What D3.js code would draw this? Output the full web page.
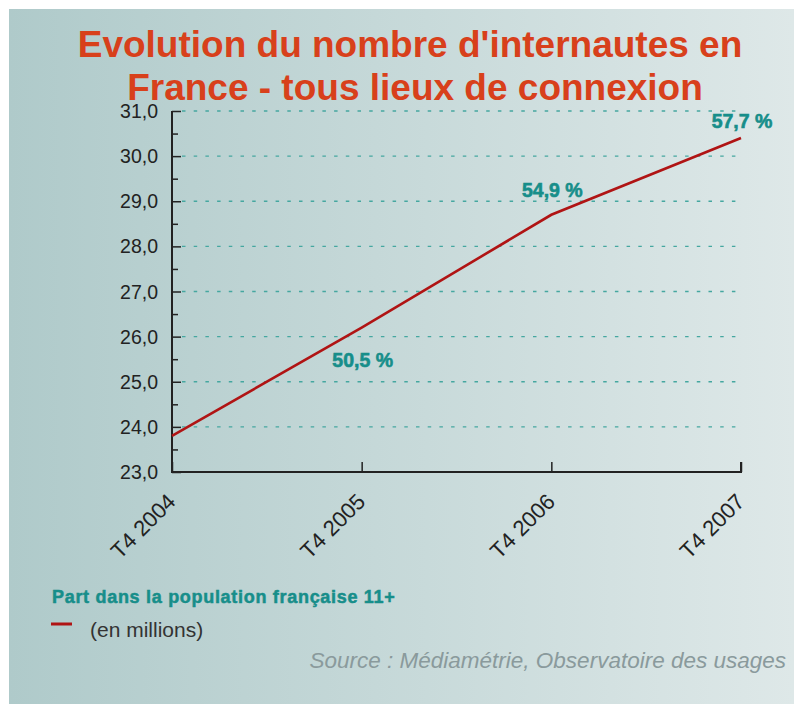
<!DOCTYPE html>
<html><head><meta charset="utf-8">
<script src="https://cdn.jsdelivr.net/npm/d3@7"></script>
<style>body{margin:0;background:#fff}svg{display:block}</style>
</head><body>
<svg id="c" width="794" height="704"></svg>
<script>
const categories = ["T4 2004","T4 2005","T4 2006","T4 2007"];
const values = [23.8, 26.2, 28.7, 30.4];
const shareLabels = ["", "50,5 %", "54,9 %", "57,7 %"];
const shareOffsets = [0, 39, -18, -10];
const yTicks = [23,24,25,26,27,28,29,30,31];
const titleLines = ["Evolution du nombre d'internautes en","France - tous lieux de connexion"];

const FONT = "Liberation Sans, Arial, sans-serif";
const svg = d3.select("#c");
const defs = svg.append("defs");
const g = defs.append("linearGradient").attr("id","bg").attr("x1","0").attr("x2","1").attr("y1","0").attr("y2","0");
g.append("stop").attr("offset","0").attr("stop-color","#afcaca");
g.append("stop").attr("offset","1").attr("stop-color","#dee8e8");
svg.append("rect").attr("x",9).attr("y",9).attr("width",785).attr("height",695).attr("fill","url(#bg)");

const L=172, R=741, T=111, B=472;
const x = d3.scalePoint().domain(categories).range([L,R]);
const y = d3.scaleLinear().domain([23,31]).range([B,T]);

// grid
svg.append("g").selectAll("line").data(yTicks.slice(1)).join("line")
  .attr("x1",L+10).attr("x2",R).attr("y1",d=>y(d)).attr("y2",d=>y(d))
  .attr("stroke","#45a7a0").attr("stroke-width",1.4).attr("stroke-dasharray","3.5,8.2");

// y axis
const ya = svg.append("g").attr("transform",`translate(${L},0)`)
  .call(d3.axisRight(y).tickValues(d3.range(23,31.01,0.5)).tickSize(8).tickFormat(""));
ya.select(".domain").remove();
ya.selectAll(".tick line").attr("stroke","#222").attr("stroke-width",1.5)
  .attr("x2",d=>Number.isInteger(d)?9:6);
svg.append("g").selectAll("text").data(yTicks).join("text")
  .attr("x",L-14).attr("y",d=>y(d)+7).attr("text-anchor","end")
  .attr("font-family",FONT).attr("font-size",19.5).attr("fill","#222")
  .text(d=>d3.format(".1f")(d).replace(".",","));

// x axis
const xa = svg.append("g").attr("transform",`translate(0,${B})`)
  .call(d3.axisTop(x).tickSize(10).tickFormat(""));
xa.select(".domain").remove();
xa.selectAll(".tick line").attr("stroke","#222").attr("stroke-width",1.5);
svg.append("path").attr("d",`M${L},${T}V${B}H${R}V${B-10}`).attr("fill","none").attr("stroke","#222").attr("stroke-width",2);
svg.append("g").selectAll("text").data(categories).join("text")
  .attr("transform",d=>`translate(${x(d)+5},${B+31}) rotate(-45)`).attr("text-anchor","end")
  .attr("font-family",FONT).attr("font-size",22).attr("fill","#222")
  .text(d=>d);

// line
svg.append("path").datum(values)
  .attr("d",d3.line().x((d,i)=>x(categories[i])).y(d=>y(d)))
  .attr("fill","none").attr("stroke","#b01414").attr("stroke-width",2.6);

// share labels
svg.append("g").selectAll("text").data(d3.range(1,categories.length)).join("text")
  .attr("x",i=>x(categories[i])+1).attr("y",i=>y(values[i])+shareOffsets[i])
  .attr("text-anchor","middle").attr("font-family",FONT)
  .attr("font-weight","bold").attr("font-size",19.5).attr("fill","#178e8a")
  .attr("stroke","#178e8a").attr("stroke-width",0.6)
  .text(i=>shareLabels[i]);

// title
svg.append("g").selectAll("text").data(titleLines).join("text")
  .attr("x",(d,i)=>i?415:410).attr("y",(d,i)=>57+i*43).attr("text-anchor","middle")
  .attr("font-family",FONT).attr("font-weight","bold")
  .attr("font-size",37).attr("fill","#d8401b").text(d=>d);

// legend
svg.append("text").attr("x",52).attr("y",603).attr("font-family",FONT)
  .attr("font-weight","bold").attr("font-size",18).attr("letter-spacing",0.7).attr("fill","#178e8a")
  .attr("stroke","#178e8a").attr("stroke-width",0.5)
  .text("Part dans la population française 11+");
svg.append("line").attr("x1",51).attr("x2",72).attr("y1",624).attr("y2",624).attr("stroke","#b01414").attr("stroke-width",3);
svg.append("text").attr("x",90).attr("y",637).attr("font-family",FONT)
  .attr("font-size",21).attr("fill","#333").text("(en millions)");

// source
svg.append("text").attr("x",786).attr("y",668).attr("text-anchor","end")
  .attr("font-family",FONT).attr("font-style","italic")
  .attr("font-size",22.5).attr("fill","#8a9a9c").text("Source : Médiamétrie, Observatoire des usages");
</script>
</body></html>
